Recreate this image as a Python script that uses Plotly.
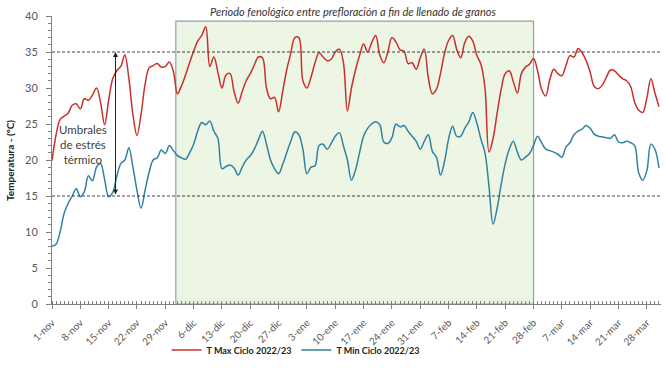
import plotly.graph_objects as go

# Daily values, 1-nov (day 0) to 31-mar (day 150)
t_max = [19.9, 23.5, 25.6, 26.1, 26.5, 27.6, 27.8, 27.1, 28.5, 28.3,
         29.0, 30.0, 28.0, 24.9, 28.3, 31.3, 32.4, 33.0, 34.6, 31.3,
         26.3, 23.4, 26.3, 30.5, 32.8, 33.1, 33.4, 32.9, 33.0, 33.6,
         32.3, 29.2, 30.3, 31.8, 33.5, 35.1, 36.5, 37.3, 38.5, 33.0,
         34.3, 32.2, 30.0, 31.8, 32.0, 29.5, 27.9, 29.5, 31.0, 32.0,
         33.2, 34.3, 34.2, 30.0, 28.5, 28.7, 26.7, 29.5, 32.5, 34.8,
         37.0, 37.0, 31.0, 30.0, 31.5, 33.5, 34.9, 34.3, 33.8, 34.0,
         35.0, 35.4, 33.6, 26.8, 30.0, 32.5, 34.5, 36.1, 35.0, 36.3,
         37.3, 34.6, 33.5, 35.0, 37.0, 36.4, 35.3, 35.1, 33.4, 33.5,
         32.6, 34.2, 35.4, 31.4, 29.2, 29.8, 32.0, 34.8, 36.6, 37.3,
         35.4, 34.2, 36.3, 37.2, 36.5, 34.5, 33.3, 30.0, 21.1, 23.0,
         26.5, 29.8, 32.0, 32.4, 30.9, 29.3, 32.0, 32.9, 33.3, 34.1,
         32.4, 29.8, 28.9, 31.1, 32.6, 32.0, 31.7, 33.1, 34.5, 34.3,
         35.5, 34.9, 33.8, 32.2, 30.2, 29.9, 30.4, 31.5, 32.5, 32.4,
         31.8, 31.3, 31.0, 30.2, 28.0, 26.9, 26.6, 28.6, 31.3, 29.3,
         27.4]

t_min = [8.0, 8.3, 10.0, 12.6, 14.0, 15.0, 16.0, 14.9, 15.6, 17.8,
         17.1, 19.0, 19.5, 17.3, 14.9, 15.5, 17.7, 19.5, 20.0, 21.7,
         19.0, 15.8, 13.3, 15.8, 18.3, 20.0, 20.3, 21.4, 20.9, 22.0,
         21.3, 20.6, 20.3, 20.1, 21.0, 22.2, 24.0, 25.2, 24.9, 25.4,
         24.0, 23.0, 18.8, 19.1, 19.3, 18.9, 17.9, 19.0, 20.0, 20.6,
         21.5, 22.8, 24.0, 22.2, 20.0, 18.8, 18.1, 19.4, 21.0, 22.6,
         23.9, 23.5, 21.5, 18.1, 19.0, 19.2, 22.0, 22.2, 21.5, 22.3,
         23.3, 23.8, 22.0, 20.0, 17.2, 18.6, 21.0, 23.3, 24.4, 25.0,
         25.3, 24.9, 22.5, 22.3, 23.1, 25.0, 24.6, 24.8, 24.0, 23.3,
         22.6, 21.5, 22.6, 23.5, 21.2, 20.4, 17.9, 19.8, 22.9, 24.7,
         23.3, 23.3, 24.4, 25.3, 26.6, 25.1, 22.9, 21.0, 16.3, 11.1,
         13.3, 16.6, 19.5, 21.5, 22.6, 21.1, 20.0, 20.4, 20.9, 22.0,
         23.3, 22.4, 21.5, 21.3, 21.1, 20.8, 20.4, 21.8, 22.4, 23.5,
         24.0, 24.3, 24.8, 24.4, 23.6, 23.3, 23.2, 23.1, 23.0, 23.5,
         22.5, 22.4, 22.6, 22.4, 22.0, 18.2, 17.2, 18.5, 22.2, 21.5,
         18.9]

days = list(range(len(t_max)))

tick_days = [0, 7, 14, 21, 28, 35, 42, 49, 56, 63, 70, 77, 84, 91, 98,
             105, 112, 119, 126, 133, 140, 147]
tick_labels = ["1-nov", "8-nov", "15-nov", "22-nov", "29-nov", "6-dic",
               "13-dic", "20-dic", "27-dic", "3-ene", "10-ene", "17-ene",
               "24-ene", "31-ene", "7-feb", "14-feb", "21-feb", "28-feb",
               "7-mar", "14-mar", "21-mar", "28-mar"]

period_start, period_end = 30.6, 119.0
thresholds = [35, 15]

FONT = "Lato"
RED = "#C9302C"
BLUE = "#31829F"

fig = go.Figure()
fig.add_trace(go.Scatter(x=days, y=t_max, mode="lines", name="T Max Ciclo 2022/23",
                         line=dict(color=RED, width=1.5, shape="spline", smoothing=1.0)))
fig.add_trace(go.Scatter(x=days, y=t_min, mode="lines", name="T Min Ciclo 2022/23",
                         line=dict(color=BLUE, width=1.5, shape="spline", smoothing=1.0)))

# phenological period box
fig.add_shape(type="rect", xref="x", yref="y", x0=period_start, x1=period_end,
              y0=0, y1=39.3, fillcolor="#EDF5E5", line=dict(color="#8FA3AE", width=1.2),
              layer="below")
# threshold lines
for t in thresholds:
    fig.add_shape(type="line", xref="x", yref="y", x0=0, x1=150.5, y0=t, y1=t,
                  line=dict(color="#404040", width=1, dash="3px,2px"), layer="above")

# double arrow
fig.add_annotation(x=15.7, y=35, ax=15.7, ay=15, xref="x", yref="y", axref="x", ayref="y",
                   text="", showarrow=True, arrowhead=2, arrowside="end+start",
                   arrowsize=1, arrowwidth=1, arrowcolor="#202020")
fig.add_annotation(x=7.7, y=22.1, xref="x", yref="y", showarrow=False,
                   text="Umbrales<br>de estrés<br>térmico",
                   font=dict(family=FONT, size=11.5, color="#404040"), align="center")
fig.add_annotation(x=0.495, y=1.017, xref="paper", yref="paper", showarrow=False,
                   text="<i>Periodo fenológico entre prefloración a fin de llenado de granos</i>",
                   font=dict(family=FONT, size=11, color="#333333"),
                   xanchor="center", yanchor="middle")
fig.add_annotation(x=-0.069, y=0.5, xref="paper", yref="paper", showarrow=False,
                   text="<b>Temperatura - (ºC)</b>", textangle=-90,
                   xanchor="center", yanchor="middle",
                   font=dict(family=FONT, size=10, color="#222222"))

fig.update_layout(
    width=665, height=369,
    margin=dict(l=52, r=4, t=16, b=55),
    paper_bgcolor="white", plot_bgcolor="white",
    font=dict(family=FONT, color="#595959"),
    showlegend=True,
    legend=dict(orientation="h", x=0.40, xanchor="center", y=-0.16, yanchor="middle",
                font=dict(family=FONT, size=9, color="#222222", weight="bold"),
                itemwidth=30, bgcolor="rgba(0,0,0,0)"),
    xaxis=dict(range=[0, 150.5], tickmode="array", tickvals=tick_days, ticktext=tick_labels,
               tickangle=-45, tickfont=dict(family=FONT, size=10, color="#595959"),
               showgrid=False, zeroline=False, showline=True, linecolor="#808080", linewidth=1,
               ticks="outside", ticklen=4, tickcolor="#808080", ticklabelstandoff=4,
               minor=dict(dtick=1, tick0=0, ticks="inside", ticklen=3, tickcolor="#808080")),
    yaxis=dict(range=[0, 40], tickmode="linear", dtick=5, tick0=0,
               tickfont=dict(family=FONT, size=11, color="#595959"),
               showgrid=False, zeroline=False, showline=True, linecolor="#808080", linewidth=1,
               ticks="outside", ticklen=5, tickcolor="#808080", ticklabelstandoff=6,
               minor=dict(dtick=1, tick0=0, ticks="outside", ticklen=3, tickcolor="#808080")),
)

fig.write_html("out.html", config={"displayModeBar": False},
               post_script="document.body.style.margin='0px';")
